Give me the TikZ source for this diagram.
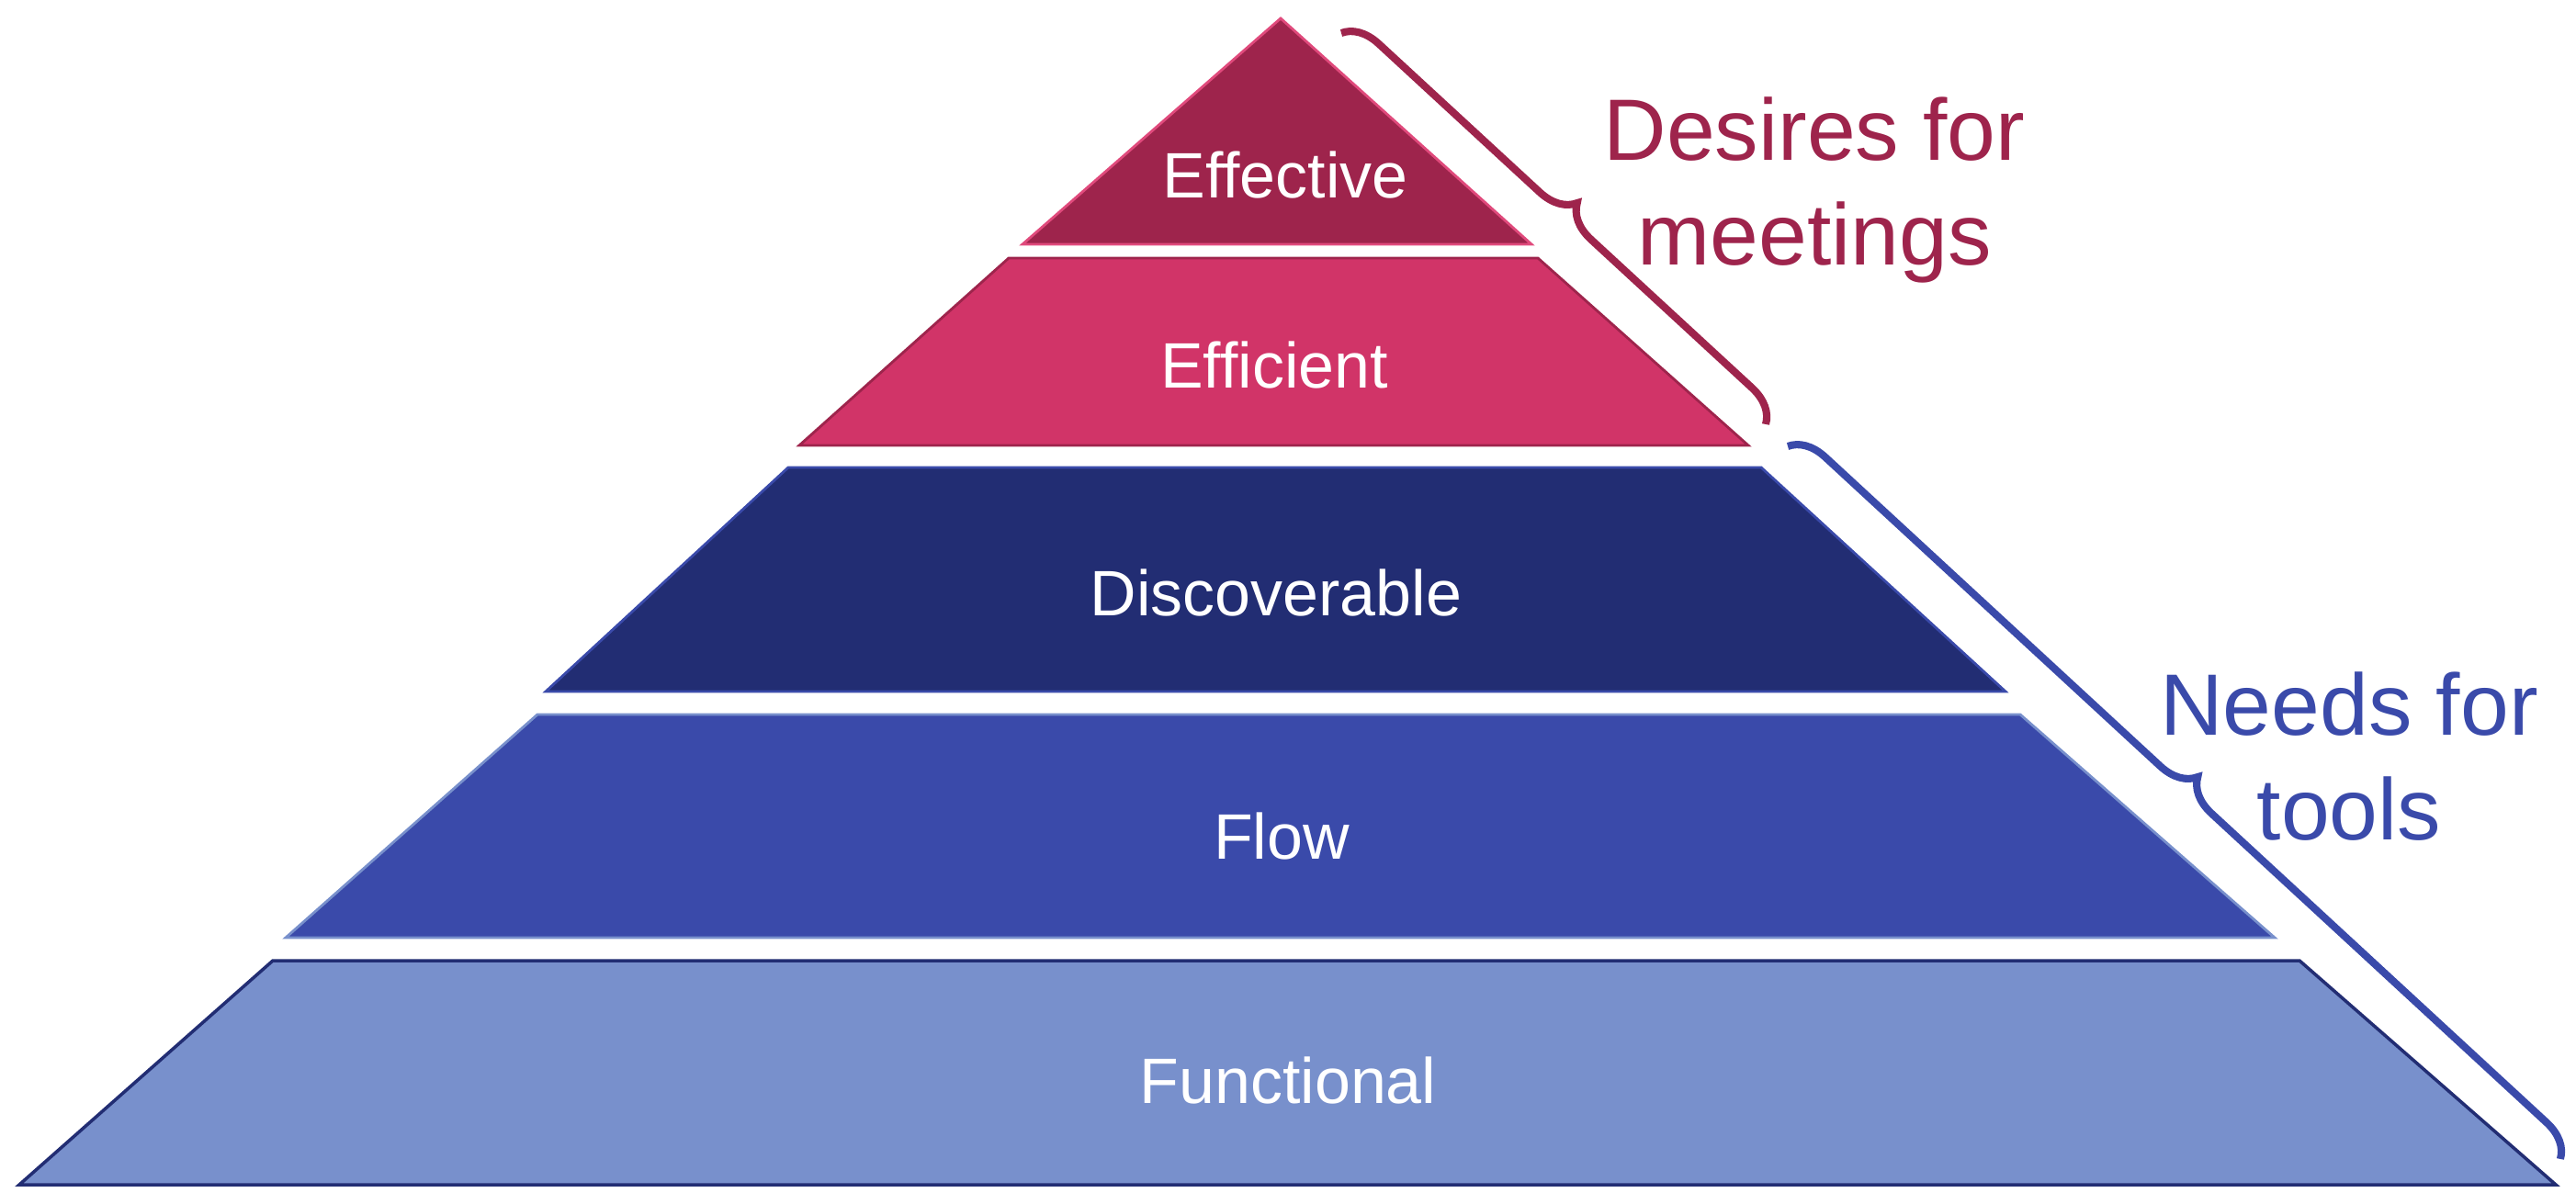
\documentclass[tikz,border=0pt]{standalone}
\usepackage{fontspec}
\setmainfont[Ligatures=NoCommon]{Liberation Sans}
\usetikzlibrary{decorations.pathreplacing, positioning}
\definecolor{wine}{HTML}{9E244C}
\definecolor{rose}{HTML}{D13468}
\definecolor{pinkline}{HTML}{E04A7C}
\definecolor{navy}{HTML}{222D73}
\definecolor{royal}{HTML}{3A4AAA}
\definecolor{periwinkle}{HTML}{7890CC}
\tikzset{
  layer/.style={line width=0.8pt, line join=miter},
  tier/.style={text=white, font=\fontsize{19.9}{24}\selectfont, anchor=base, inner sep=0pt},
  side/.style={font=\fontsize{27}{32.4}\selectfont, align=center, inner sep=0pt},
  bracket/.style={decorate, decoration={brace, amplitude=0.38cm}, line width=2.3pt},
}
\begin{document}
\begin{tikzpicture}
	\useasboundingbox (0,0) rectangle (28.04,13.10);
	% pyramid, top to bottom
	\filldraw[layer, fill=wine, draw=pinkline] (13.94,12.90) -- (16.67,10.44) -- (11.13,10.44) -- cycle;
	\filldraw[layer, fill=rose, draw=wine] (10.98,10.29) -- (16.74,10.29) -- (19.03,8.25) -- (8.70,8.25) -- cycle;
	\filldraw[layer, fill=navy, draw=royal] (8.58,8.01) -- (19.17,8.01) -- (21.83,5.57) -- (5.94,5.57) -- cycle;
	\filldraw[layer, fill=royal, draw=periwinkle] (5.85,5.32) -- (21.99,5.32) -- (24.76,2.89) -- (3.11,2.89) -- cycle;
	\filldraw[layer, fill=periwinkle, draw=navy, line width=1pt] (2.97,2.64) -- (25.03,2.64) -- (27.82,0.20) -- (0.21,0.20) -- cycle;
	
	\node [tier] (effective) at (13.99,10.94) {Effective};
	\node [tier] (efficient) at (13.87,8.87) {Efficient};
	\node [tier] (discoverable) at (13.89,6.40) {Discoverable};
	\node [tier] (flow) at (13.95,3.75) {Flow};
	\node [tier] (functional) at (14.02,1.09) {Functional};
	
	% side labels and braces
	\node [side, text=wine] (desires) at (19.75,11.03) {Desires for\\meetings};
	\node [side, text=royal] (needs) at (25.57,4.86) {Needs for\\tools};
	
	\coordinate (desires top) at (14.60,12.74);
	\coordinate (desires bottom) at (19.22,8.48);
	\coordinate (needs top) at (19.46,8.24);
	\coordinate (needs bottom) at (27.87,0.48);
	
	\draw[bracket, wine] (desires top) -- (desires bottom);
	\draw[bracket, royal] (needs top) -- (needs bottom);
\end{tikzpicture}
\end{document}
